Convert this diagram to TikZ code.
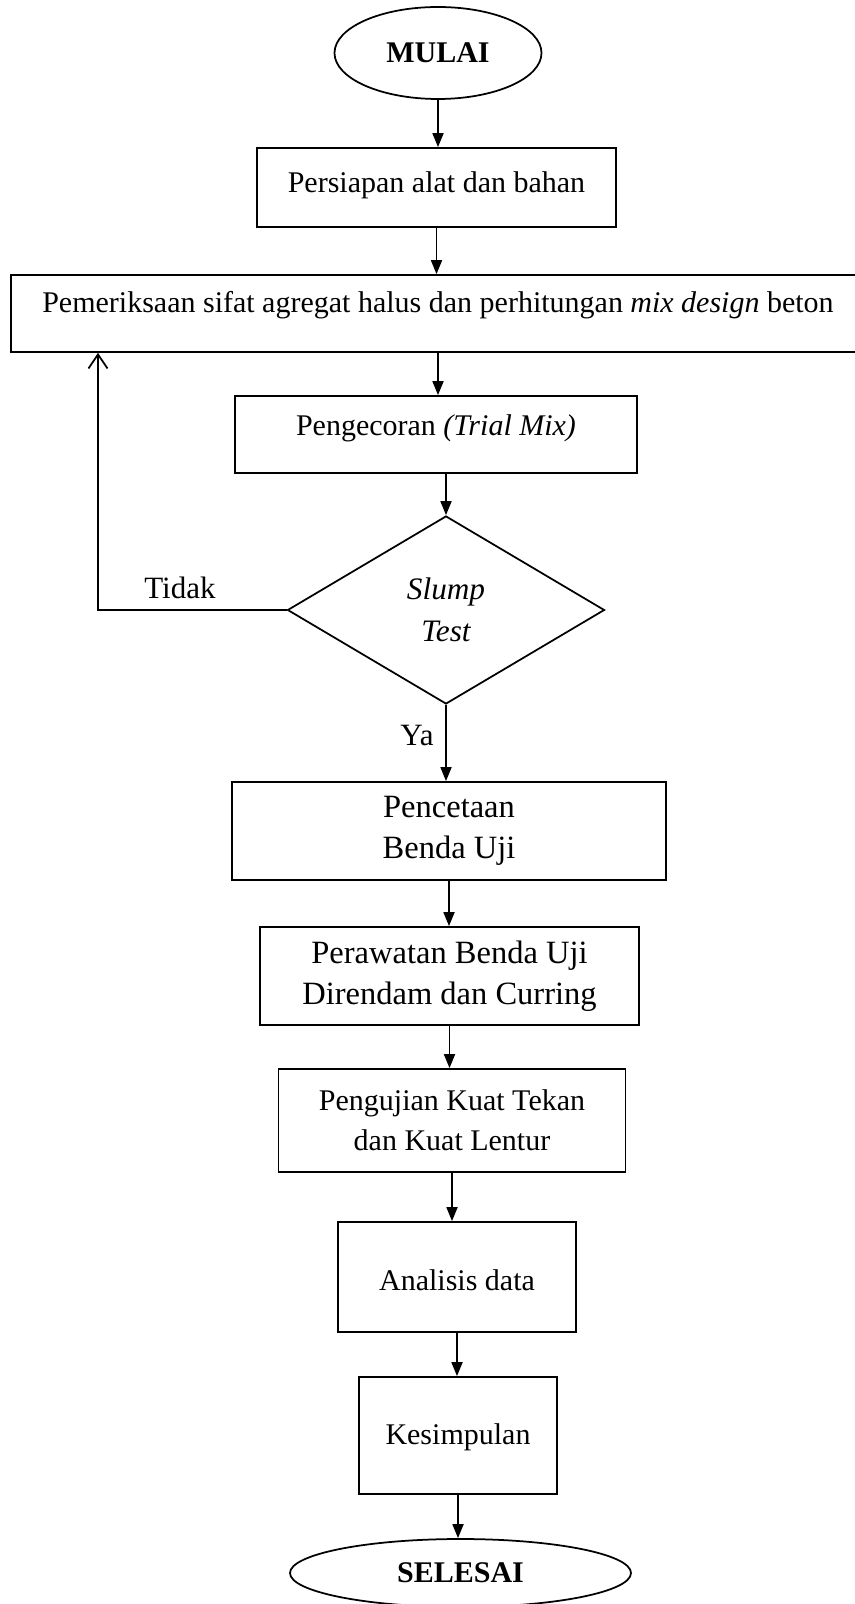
\documentclass[tikz,border=0pt]{standalone}
\usepackage{fontspec}
\setmainfont{Liberation Serif}
\usetikzlibrary{shapes,arrows.meta}

\newcommand{\hurufdasar}{\fontsize{12}{16}\selectfont}
\newcommand{\hurufbesar}{\fontsize{13}{16.4}\selectfont}

\tikzset{
  kotak/.style={shape=rectangle,draw=black,align=center,line width=0.7pt,inner sep=0pt,font=\hurufdasar},
  ujung/.style={shape=ellipse,draw=black,align=center,line width=0.7pt,inner sep=0pt,font=\hurufdasar\bfseries},
  keputusan/.style={shape=diamond,draw=black,align=center,line width=0.7pt,inner sep=0pt,font=\fontsize{12.5}{16.8}\selectfont\itshape},
  teks/.style={inner sep=0pt,font=\fontsize{12.4}{16}\selectfont},
  panah/.style={-{Triangle[width=4.4pt,length=5.6pt]},draw=black,line width=0.7pt},
  balik/.style={-{Straight Barb[width=7.6pt,length=5.6pt]},draw=black,line width=0.7pt}
}

\begin{document}
\begin{tikzpicture}[x=0.4pt,y=-0.4pt]
\useasboundingbox (0,0) rectangle (854,1604);
\node[ujung,minimum width=82.8pt,minimum height=36.8pt] (mulai) at (438,53) {MULAI};
\node[kotak,minimum width=143.6pt,minimum height=31.6pt,text height=8pt,text depth=3.6pt] (persiapan) at (436.5,187.5) {Persiapan alat dan bahan};
\node[kotak,minimum width=341.6pt,minimum height=30.8pt,text height=8pt,text depth=8.4pt] (pemeriksaan) at (438,313.5) {Pemeriksaan sifat agregat halus dan perhitungan \textit{mix design} beton};
\node[kotak,minimum width=160.8pt,minimum height=30.8pt,text height=8pt,text depth=7.6pt] (pengecoran) at (436,434.5) {Pengecoran \textit{(Trial Mix)}};
\node[keputusan,minimum width=126.8pt,minimum height=75.2pt] (slump) at (446,610) {Slump\\Test};
\node[kotak,minimum width=173.6pt,minimum height=39.2pt,font=\hurufbesar] (pencetaan) at (449,831) {Pencetaan\\Benda Uji};
\node[kotak,minimum width=151.6pt,minimum height=39.2pt,font=\hurufbesar] (perawatan) at (449.5,976) {Perawatan Benda Uji\\Direndam dan Curring};
\node[kotak,minimum width=138.8pt,minimum height=41.2pt] (pengujian) at (452,1120.5) {Pengujian Kuat Tekan\\dan Kuat Lentur};
\node[kotak,minimum width=95.2pt,minimum height=44pt,text height=11pt,text depth=0pt] (analisis) at (457,1277) {Analisis data};
\node[kotak,minimum width=79.2pt,minimum height=46.8pt,text height=9.5pt,text depth=2.6pt] (kesimpulan) at (458,1435.5) {Kesimpulan};
\node[ujung,minimum width=136.4pt,minimum height=27.2pt] (selesai) at (460.5,1573) {SELESAI};

\node[teks] (tidak) at (180,588) {Tidak};
\node[teks] (ya) at (417,735) {Ya};
\coordinate (belok) at (98,610);

\path [panah] (mulai) edge (mulai |- persiapan.north);
\path [panah] (persiapan) edge (persiapan |- pemeriksaan.north);
\path [panah] (pemeriksaan) edge (pemeriksaan |- pengecoran.north);
\draw [panah] (slump.north |- pengecoran.south) -- (slump.north);
\path [panah] (slump) edge (slump |- pencetaan.north);
\path [panah] (pencetaan) edge (pencetaan |- perawatan.north);
\path [panah] (perawatan) edge (perawatan |- pengujian.north);
\path [panah] (pengujian) edge (pengujian |- analisis.north);
\path [panah] (analisis) edge (analisis |- kesimpulan.north);
\path [panah] (kesimpulan) edge (kesimpulan |- selesai.north);
\draw [balik] (slump.west) -- (belok) -- (belok |- pemeriksaan.south);
\end{tikzpicture}
\end{document}
